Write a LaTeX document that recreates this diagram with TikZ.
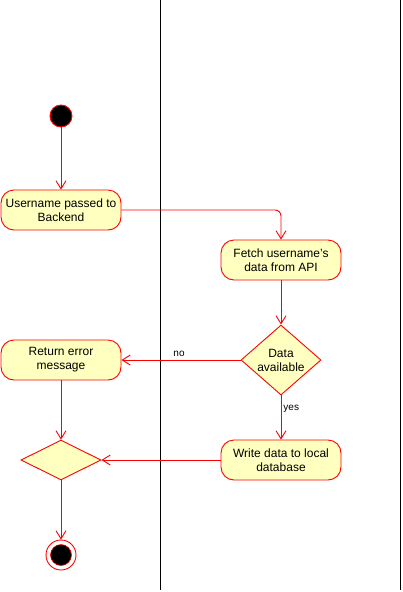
\documentclass[tikz,border=0pt]{standalone}
\usepackage{fontspec}
\setmainfont{Liberation Sans}
\usepackage{xcolor}
\usetikzlibrary{shapes.geometric,arrows.meta}

\definecolor{actfill}{HTML}{FFFFC0}
\definecolor{actline}{HTML}{FF0000}

\tikzset{
  action/.style={draw=actline, fill=actfill, line width=0.9pt, rounded corners=13pt,
                 minimum width=120pt, minimum height=40pt, align=center,
                 font=\fontsize{12}{14}\selectfont},
  decision/.style={draw=actline, fill=actfill, line width=0.9pt, shape=diamond,
                   inner sep=0pt, align=center, font=\fontsize{12}{14}\selectfont},
  flow/.style={draw=actline, line width=0.9pt, -{Straight Barb[length=8pt,width=10pt]}},
  lane/.style={draw=black, line width=0.9pt}
}

\begin{document}
\begin{tikzpicture}[x=1pt,y=-1pt]
  \useasboundingbox (0,0) rectangle (402,592);

  % swimlane borders
  \coordinate (laneAtop) at (160,0);
  \coordinate (laneAbot) at (160,590);
  \coordinate (laneBtop) at (400,0);
  \coordinate (laneBbot) at (400,590);
  \draw[lane] (laneAtop) -- (laneAbot);
  \draw[lane] (laneBtop) -- (laneBbot);

  \node[circle, draw=actline, fill=black, line width=0.9pt, minimum size=22pt, inner sep=0pt] (start) at (61,116) {};

  \node[action] (passed) at (61,210) {Username passed to\\Backend};
  \node[action] (fetch) at (281,260) {Fetch username's\\data from API};
  \node[decision, minimum width=80pt, minimum height=70pt, aspect=1.14] (avail) at (281,360) {Data\\available};
  \node[action] (error) at (61,360) {Return error\\message};
  \node[action] (write) at (281,460) {Write data to local\\database};
  \node[decision, minimum width=80pt, minimum height=40pt, aspect=2] (merge) at (61,460) {};

  \node[circle, draw=actline, fill=white, line width=0.9pt, minimum size=30pt, inner sep=0pt] (stop) at (61,555) {};
  \node[circle, draw=actline, fill=black, line width=0.6pt, minimum size=21pt, inner sep=0pt] (stopdot) at (stop) {};

  \draw[flow] (start) -- (passed);
  \draw[flow, rounded corners=6pt] (passed.east) -- (passed.east -| fetch.north) -- (fetch.north);
  \draw[flow] (fetch) -- (avail);
  \draw[flow] (avail.west) -- node[above, black, font=\fontsize{10}{12}\selectfont, xshift=-2pt] {no} (error.east);
  \draw[flow] (avail.south) -- node[pos=0.3, right, black, font=\fontsize{10}{12}\selectfont, inner sep=2pt] {yes} (write.north);
  \draw[flow] (error) -- (merge.north);
  \draw[flow] (write.west) -- (merge.east);
  \draw[flow] (merge.south) -- (stop.north);
\end{tikzpicture}
\end{document}
